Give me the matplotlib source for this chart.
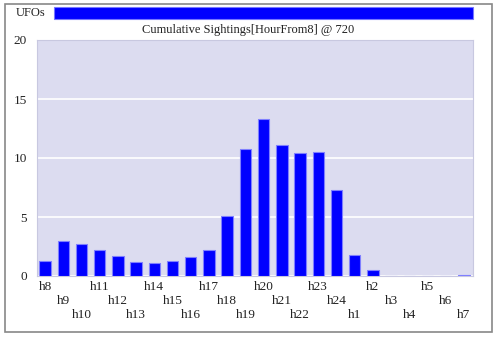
import matplotlib
matplotlib.use("Agg")
import matplotlib.pyplot as plt
from matplotlib.patches import Rectangle

hours = ["h8", "h9", "h10", "h11", "h12", "h13", "h14", "h15", "h16", "h17", "h18", "h19",
         "h20", "h21", "h22", "h23", "h24", "h1", "h2", "h3", "h4", "h5", "h6", "h7"]
sightings = [1.25, 3.0, 2.67, 2.19, 1.7, 1.19, 1.1, 1.28, 1.62, 2.19, 5.05, 10.76,
             13.3, 11.1, 10.45, 10.53, 7.33, 1.76, 0.54, 0, 0, 0, 0, 0.12]
yticks = [0, 5, 10, 15, 20]
title = "Cumulative Sightings[HourFrom8] @ 720"
legend_label = "UFOs"

W, H = 500, 337
fig = plt.figure(figsize=(W / 100, H / 100), dpi=100)
fig.patch.set_facecolor("white")

serif = ["Liberation Serif", "DejaVu Serif"]
fs = 9

# outer frame
fig.patches.append(Rectangle((5 / W, 1 - 332 / H), 487 / W, 328 / H, transform=fig.transFigure,
                             fill=False, edgecolor="#888888", linewidth=1.2))

# header legend bar
fig.text(16 / W, 1 - 13 / H, legend_label, fontsize=fs, family=serif, ha="left", va="center",
         color="#222222")
fig.patches.append(Rectangle((54 / W, 1 - 19 / H), 419 / W, 12 / H, transform=fig.transFigure,
                             facecolor="#0000ff", edgecolor="#7777ff", linewidth=0.8))
fig.text(248 / W, 1 - 30 / H, title, fontsize=fs, family=serif, ha="center", va="center",
         color="#222222")

left, right, top, bottom = 36.5, 472.5, 40, 276
ax = fig.add_axes([left / W, 1 - bottom / H, (right - left) / W, (bottom - top) / H])
ax.set_facecolor("#dcdcf0")
x = list(range(len(hours)))
ax.bar(x, sightings, width=0.63, color="#0000ff", edgecolor="#7f7fff", linewidth=0.8, zorder=3)
ax.set_xlim(-0.47, len(hours) - 0.53)
ax.set_ylim(0, 20)
ax.set_yticks(yticks)
ax.set_yticklabels([str(v) for v in yticks], family=serif, fontsize=fs + 0.5, color="#222222")
ax.grid(axis="y", color="white", linewidth=1.2, zorder=1)
ax.set_axisbelow(True)
ax.tick_params(axis="y", length=0, pad=7)
ax.tick_params(axis="x", length=0)
ax.set_xticks([])
for s in ax.spines.values():
    s.set_color("#c8c8e0")
    s.set_linewidth(0.8)

# staggered category labels
for i, lab in enumerate(hours):
    row = i % 3
    ax.annotate(lab, xy=(i, 0), xycoords=("data", "axes fraction"),
                xytext=(0, -10.5 - 14.2 * row), textcoords="offset pixels",
                ha="center", va="center", fontsize=fs + 0.5, family=serif, color="#222222")

fig.savefig("out.png", dpi=100, facecolor="white")
